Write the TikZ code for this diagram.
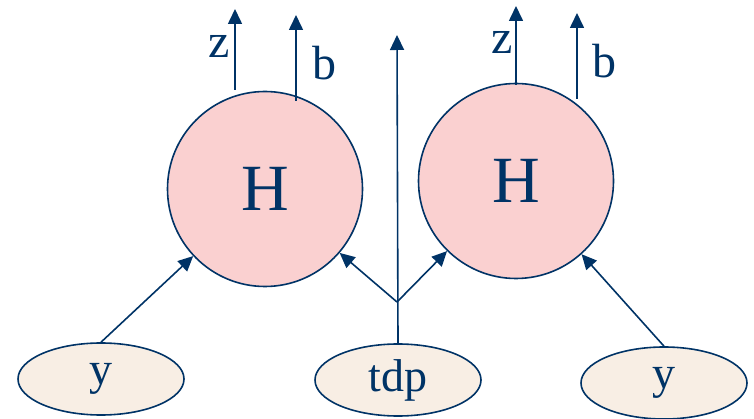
\documentclass[tikz,border=0pt]{standalone}
\usepackage{fontspec}
\setmainfont{Liberation Serif}
\usetikzlibrary{arrows.meta,positioning,shapes.geometric}

\definecolor{navy}{RGB}{0,51,102}
\definecolor{hfill}{RGB}{250,208,208}
\definecolor{yfill}{RGB}{248,238,228}

\tikzset{
  hnode/.style={circle,draw=navy,line width=1.6pt,fill=hfill,minimum size=195pt,
    inner sep=0pt,text=navy,font=\fontsize{66}{70}\selectfont},
  ynode/.style={ellipse,draw=navy,line width=1.6pt,fill=yfill,minimum width=166pt,
    minimum height=72pt,inner sep=0pt,text=navy,font=\fontsize{46}{50}\selectfont},
  lbl/.style={text=navy,font=\fontsize{48}{52}\selectfont,inner sep=0pt},
  link/.style={draw=navy,line width=1.6pt}
}

\begin{document}
\begin{tikzpicture}[x=1pt,y=-1pt,>={Triangle[length=15pt,width=14pt]}]
    \useasboundingbox (0,0) rectangle (754,419);

    \node[hnode] (h1) at (265,189) {H};
    \node[hnode] (h2) at (516,181) {H};

    \node[ynode] (y1) at (101,379) {y};
    \node[ynode] (tdp) at (398,380) {tdp};
    \node[ynode] (y2) at (664,383) {y};

    \coordinate (br) at (397,302);
    \coordinate (top) at (397,35);
    \coordinate (z1a) at (235,90);
    \coordinate (z1b) at (235,9);
    \coordinate (b1a) at (296,101);
    \coordinate (b1b) at (296,15);
    \coordinate (z2a) at (516,85);
    \coordinate (z2b) at (516,6);
    \coordinate (b2a) at (577,99);
    \coordinate (b2b) at (577,13);

    \draw[link,->] (y1.north) -- (h1);
    \draw[link,->] (y2.north) -- (h2);
    \draw[link,->] (tdp.north) -- (top);
    \draw[link,->] (br) -- (h1);
    \draw[link,->] (br) -- (h2);

    \draw[link,->] (z1a) -- (z1b);
    \draw[link,->] (b1a) -- (b1b);
    \draw[link,->] (z2a) -- (z2b);
    \draw[link,->] (b2a) -- (b2b);

    \node[lbl] (lz1) at (219,46) {z};
    \node[lbl] (lb1) at (324,63) {b};
    \node[lbl] (lz2) at (502,42) {z};
    \node[lbl] (lb2) at (604,61) {b};
\end{tikzpicture}
\end{document}
